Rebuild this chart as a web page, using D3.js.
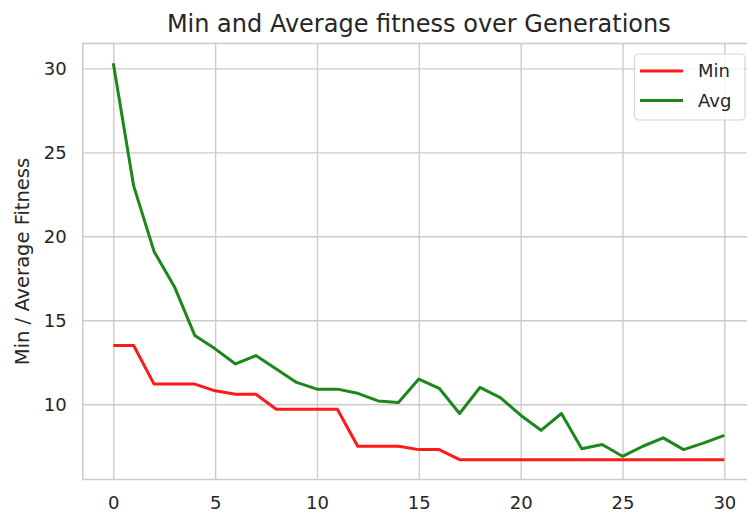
<!DOCTYPE html>
<html>
<head>
<meta charset="utf-8">
<script src="https://cdn.jsdelivr.net/npm/d3@7"></script>
<style>
  body { margin: 0; background: #fff; }
  svg { display: block; font-family: "DejaVu Sans", sans-serif; }
</style>
</head>
<body>
<svg id="chart" width="747" height="512"></svg>
<script>
// data
var generations = d3.range(0, 31);
var minFitness = [13.5, 13.5, 11.2, 11.2, 11.2, 10.8, 10.6, 10.6, 9.7, 9.7,
                  9.7, 9.7, 7.5, 7.5, 7.5, 7.3, 7.3, 6.7, 6.7, 6.7,
                  6.7, 6.7, 6.7, 6.7, 6.7, 6.7, 6.7, 6.7, 6.7, 6.7, 6.7];
var avgFitness = [30.3, 23.0, 19.1, 17.0, 14.1, 13.3, 12.4, 12.9, 12.1, 11.3,
                  10.9, 10.9, 10.65, 10.2, 10.1, 11.5, 10.95, 9.45, 11.0, 10.4,
                  9.35, 8.45, 9.45, 7.35, 7.6, 6.9, 7.5, 8.0, 7.3, 7.7, 8.15];
var xTicks = [0, 5, 10, 15, 20, 25, 30];
var yTicks = [10, 15, 20, 25, 30];

var svg = d3.select("#chart");
var mLeft = 82.75, mRight = 754.9, mTop = 43.5, mBottom = 479.5;

// matplotlib style 5% margins
var xs = d3.extent(generations), xpad = (xs[1] - xs[0]) * 0.05;
var allY = minFitness.concat(avgFitness);
var ys = d3.extent(allY), ypad = (ys[1] - ys[0]) * 0.05;

var x = d3.scaleLinear().domain([xs[0] - xpad, xs[1] + xpad]).range([mLeft, mRight]);
var y = d3.scaleLinear().domain([ys[0] - ypad, ys[1] + ypad]).range([mBottom, mTop]);

var grid = "#cccccc", txt = "#262626";
var minColor = "#ff1a1a", avgColor = "#1c881c";

// grid + tick labels
var gx = svg.append("g")
  .attr("transform", "translate(0," + mBottom + ")")
  .call(d3.axisBottom(x).tickValues(xTicks).tickSize(-(mBottom - mTop)).tickPadding(17));
var gy = svg.append("g")
  .attr("transform", "translate(" + mLeft + ",0)")
  .call(d3.axisLeft(y).tickValues(yTicks).tickSize(-(mRight - mLeft)).tickPadding(16));

[gx, gy].forEach(function(g) {
  g.select(".domain").remove();
  g.selectAll(".tick line").attr("stroke", grid).attr("stroke-width", 1.4);
  g.selectAll(".tick text")
    .attr("fill", txt)
    .style("font-size", "18px")
    .style("font-family", "DejaVu Sans");
});

// spines
svg.append("rect")
  .attr("x", mLeft).attr("y", mTop)
  .attr("width", mRight - mLeft).attr("height", mBottom - mTop)
  .attr("fill", "none").attr("stroke", grid).attr("stroke-width", 1.6);

var line = function(vals) {
  return d3.line()
    .x(function(d, i) { return x(generations[i]); })
    .y(function(d) { return y(d); })(vals);
};

svg.append("path")
  .attr("d", line(minFitness))
  .attr("fill", "none")
  .attr("stroke", minColor)
  .attr("stroke-width", 3)
  .attr("stroke-linejoin", "round");

svg.append("path")
  .attr("d", line(avgFitness))
  .attr("fill", "none")
  .attr("stroke", avgColor)
  .attr("stroke-width", 3)
  .attr("stroke-linejoin", "round");

// title + y label
svg.append("text")
  .attr("x", (mLeft + mRight) / 2).attr("y", 32)
  .attr("text-anchor", "middle")
  .attr("fill", txt)
  .style("font-size", "24px")
  .text("Min and Average fitness over Generations");

svg.append("text")
  .attr("transform", "translate(29," + (mTop + mBottom) / 2 + ") rotate(-90)")
  .attr("text-anchor", "middle")
  .attr("fill", txt)
  .style("font-size", "19.5px")
  .text("Min / Average Fitness");

// legend
var leg = svg.append("g");
leg.append("rect")
  .attr("x", 634.5).attr("y", 54)
  .attr("width", 110.5).attr("height", 66)
  .attr("rx", 4)
  .attr("fill", "white").attr("fill-opacity", 0.8)
  .attr("stroke", "#d6d6d6").attr("stroke-width", 1.2);

var legItems = [{name: "Min", color: minColor, ly: 71}, {name: "Avg", color: avgColor, ly: 100.5}];
legItems.forEach(function(d) {
  leg.append("line")
    .attr("x1", 640).attr("x2", 683)
    .attr("y1", d.ly).attr("y2", d.ly)
    .attr("stroke", d.color).attr("stroke-width", 3);
  leg.append("text")
    .attr("x", 698).attr("y", d.ly)
    .attr("dy", "0.35em")
    .attr("fill", txt)
    .style("font-size", "18px")
    .text(d.name);
});
</script>
</body>
</html>
